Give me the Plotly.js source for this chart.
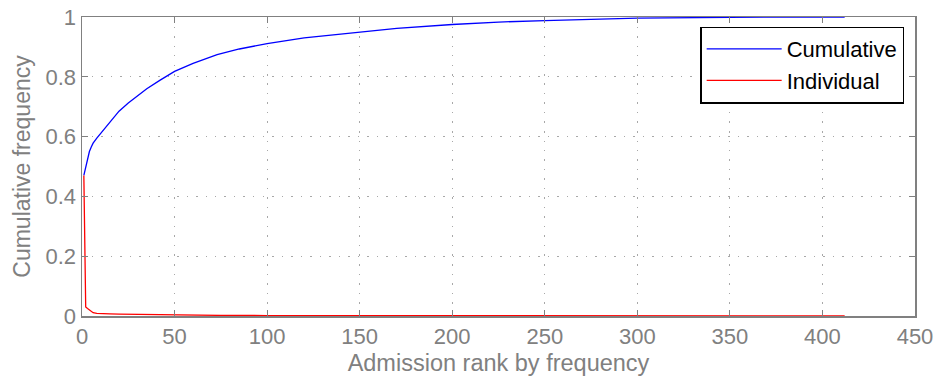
<!DOCTYPE html>
<html>
<head>
<meta charset="utf-8">
<script src="https://cdn.plot.ly/plotly-3.0.1.min.js"></script>
<style>html,body{margin:0;padding:0;background:#fff;}#chart{width:938px;height:383px;}</style>
</head>
<body>
<div id="chart"></div>
<script>
// Cumulative frequency by admission rank
const rankCum = [1,2,3,4,5,6,8,10,13,16,20,25,30,35,42,50,60,73,85,100,120,145,170,200,225,250,275,300,350,412];
const cumFreq = [0.47,0.50,0.53,0.55,0.565,0.578,0.595,0.61,0.635,0.657,0.685,0.712,0.737,0.76,0.788,0.818,0.845,0.874,0.893,0.911,0.93,0.947,0.962,0.975,0.983,0.988,0.993,0.996,0.999,1.0];
// Individual frequency by admission rank
const rankInd = [1,2,3,4,5,6,8,10,15,20,30,50,75,100,150,200,300,412];
const indFreq = [0.47,0.03,0.025,0.02,0.015,0.011,0.009,0.008,0.007,0.006,0.005,0.003,0.002,0.0015,0.001,0.0007,0.0003,0.0001];
const xTicks = [0,50,100,150,200,250,300,350,400,450];
const yTicks = [0,0.2,0.4,0.6,0.8,1];
const yTickText = ['0','0.2','0.4','0.6','0.8','1'];

const FONT = 'Arial, Liberation Sans, sans-serif';
const traces = [
  {x: rankCum, y: cumFreq, type: 'scatter', mode: 'lines', name: 'Cumulative', line: {color: '#0000ff', width: 1.3}},
  {x: rankInd, y: indFreq, type: 'scatter', mode: 'lines', name: 'Individual', line: {color: '#ff0000', width: 1.3}}
];
const axisCommon = {
  showline: true, linecolor: '#808080', linewidth: 1.5, mirror: 'ticks',
  ticks: 'inside', ticklen: 6, tickcolor: '#808080', tickwidth: 1,
  showgrid: true, gridcolor: '#a8a8a8', griddash: '1.5px,8px', gridwidth: 1,
  zeroline: false,
  tickfont: {family: FONT, size: 22, color: '#808080'}
};
const layout = {
  width: 938, height: 383,
  margin: {l: 82, r: 23, t: 17, b: 67},
  paper_bgcolor: '#ffffff', plot_bgcolor: '#ffffff',
  showlegend: true,
  legend: {x: 0.987, y: 0.968, xanchor: 'right', yanchor: 'top',
    bordercolor: '#000000', borderwidth: 1.5, bgcolor: '#ffffff',
    font: {family: FONT, size: 22, color: '#000000'},
    itemwidth: 75, tracegroupgap: 0},
  xaxis: Object.assign({}, axisCommon, {
    range: [0, 450], tickvals: xTicks, ticktext: xTicks.map(String), tickmode: 'array',
    title: {text: 'Admission rank by frequency', standoff: 6,
      font: {family: FONT, size: 23.5, color: '#808080'}}
  }),
  yaxis: Object.assign({}, axisCommon, {
    range: [0, 1], tickvals: yTicks, ticktext: yTickText, tickmode: 'array',
    title: {text: 'Cumulative frequency', standoff: 8,
      font: {family: FONT, size: 23, color: '#808080'}}
  })
};
Plotly.newPlot('chart', traces, layout, {displayModeBar: false, staticPlot: true});
</script>
</body>
</html>
